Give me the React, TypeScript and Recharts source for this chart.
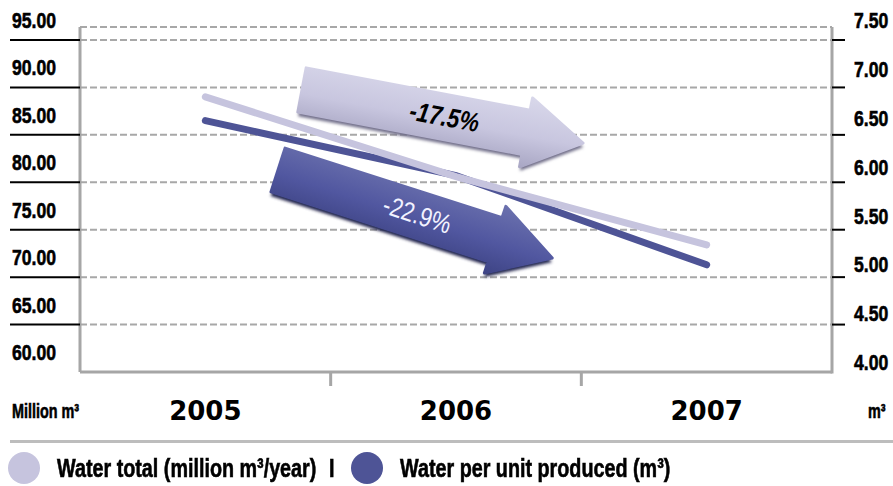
import React from "react";
import {
  LineChart,
  Line,
  XAxis,
  YAxis,
  CartesianGrid,
  Legend,
  Customized,
} from "recharts";

const years = ["2005", "2006", "2007"];
// million m3 / year (left axis)
const waterTotal = [89.0, 80.6, 73.4];
// m3 per unit produced (right axis)
const waterPerUnit = [6.65, 6.07, 5.13];
const leftTicks = [60, 65, 70, 75, 80, 85, 90, 95];
const rightTicks = [4, 4.5, 5, 5.5, 6, 6.5, 7, 7.5];

const data = years.map((year, i) => ({
  year,
  total: waterTotal[i],
  perUnit: waterPerUnit[i],
}));

const W = 893;
const H = 486;
const LEFT_W = 80;
const RIGHT_W = 61;
const TOP = 27;
const PLOT_BOTTOM = 372;
const PLOT_RIGHT = W - RIGHT_W;
const BAND = (W - LEFT_W - RIGHT_W) / years.length;

const LIGHT = "#c6c4de";
const DARK = "#4e5496";
const GRID = "#a8a8a8";
const AXIS = "#a6a6a6";
const HEAVY = "'Liberation Sans', Arial, sans-serif";

// heavy, horizontally squeezed label text
const Squeezed = ({
  x,
  y,
  size,
  sx,
  children,
}: {
  x: number;
  y: number;
  size: number;
  sx: number;
  children: React.ReactNode;
}) => (
  <text
    transform={`translate(${x},${y}) scale(${sx},1)`}
    fontFamily={HEAVY}
    fontWeight="bold"
    fontSize={size}
    fill="#000"
    stroke="#000"
    strokeWidth={0.6}
  >
    {children}
  </text>
);

const LeftTick = (props: any) => {
  const { y, payload } = props;
  return (
    <g>
      {payload.value !== leftTicks[0] && (
        <line x1={10} x2={LEFT_W} y1={y} y2={y} stroke="#000" strokeWidth={2} />
      )}
      <Squeezed x={12} y={y - 12} size={22} sx={0.8}>
        {payload.value.toFixed(2)}
      </Squeezed>
    </g>
  );
};

const RightTick = (props: any) => {
  const { y, payload, index } = props;
  return (
    <g>
      {payload.value !== rightTicks[0] && (
        <line x1={PLOT_RIGHT} x2={PLOT_RIGHT + 13} y1={y} y2={y} stroke="#000" strokeWidth={2} />
      )}
      <Squeezed x={854} y={y - 2 - 1.4 * index} size={22} sx={0.8}>
        {payload.value.toFixed(2)}
      </Squeezed>
    </g>
  );
};

const YearTick = (props: any) => {
  const { x, payload, index } = props;
  return (
    <g>
      {index < years.length - 1 && (
        <line
          x1={x + BAND / 2}
          x2={x + BAND / 2}
          y1={PLOT_BOTTOM}
          y2={PLOT_BOTTOM + 14}
          stroke={AXIS}
          strokeWidth={3}
        />
      )}
      <text
        x={x}
        y={420}
        textAnchor="middle"
        fontFamily="'DejaVu Sans', sans-serif"
        fontWeight="bold"
        fontSize={26}
        fill="#000"
      >
        {payload.value}
      </text>
    </g>
  );
};

type ArrowProps = {
  id: string;
  tail: [number, number];
  angle: number;
  len: number;
  body: number;
  head: number;
  headLen: number;
  stops: [string, string, string];
  shadow: string;
  label: string;
  labelFill: string;
  labelWeight: string;
  labelStyle: string;
};

const Arrow = (a: ArrowProps) => {
  const { len, body, head, headLen } = a;
  const pts = [
    [0, -body],
    [len - headLen, -body],
    [len - headLen, -head],
    [len, 0],
    [len - headLen, head],
    [len - headLen, body],
    [0, body],
  ]
    .map((p) => p.join(","))
    .join(" ");
  return (
    <g transform={`translate(${a.tail[0]},${a.tail[1]}) rotate(${a.angle})`}>
      <defs>
        <linearGradient id={a.id} x1="0" y1="0" x2="0" y2="1">
          <stop offset="0%" stopColor={a.stops[0]} />
          <stop offset="55%" stopColor={a.stops[1]} />
          <stop offset="100%" stopColor={a.stops[2]} />
        </linearGradient>
        <filter id={a.id + "-blur"} x="-10%" y="-20%" width="120%" height="140%">
          <feGaussianBlur stdDeviation="1.6" />
        </filter>
      </defs>
      <polygon
        points={pts}
        transform="translate(1,4)"
        fill={a.shadow}
        filter={`url(#${a.id}-blur)`}
      />
      <polygon
        points={pts}
        fill={`url(#${a.id})`}
        stroke={`url(#${a.id})`}
        strokeWidth={3}
        strokeLinejoin="round"
      />
      <text
        transform={`translate(${len / 2 + 2},9) scale(0.82,1)`}
        textAnchor="middle"
        fontFamily={HEAVY}
        fontWeight={a.labelWeight}
        fontStyle={a.labelStyle}
        fontSize={27}
        fill={a.labelFill}
      >
        {a.label}
      </text>
    </g>
  );
};

const Annotations = () => (
  <g>
    {/* right edge of the plot frame, full height like the left axis */}
    <line x1={PLOT_RIGHT} x2={PLOT_RIGHT} y1={TOP} y2={PLOT_BOTTOM + 1.5} stroke={AXIS} strokeWidth={3} />
    <Arrow
      id="arrow-total"
      tail={[302, 90]}
      angle={10.7}
      len={286}
      body={22.5}
      head={35}
      headLen={58}
      stops={["#d8d7ea", "#c8c6df", "#a9a7c4"]}
      shadow="#6f6d88"
      label="-17.5%"
      labelFill="#000"
      labelWeight="bold"
      labelStyle="italic"
    />
    <Arrow
      id="arrow-unit"
      tail={[278, 170]}
      angle={17.8}
      len={288}
      body={23}
      head={35}
      headLen={60}
      stops={["#6a70ad", "#5157a0", "#3e4485"]}
      shadow="#23274f"
      label="-22.9%"
      labelFill="#f2f2ff"
      labelWeight="normal"
      labelStyle="normal"
    />
    <Squeezed x={12} y={418} size={20} sx={0.72}>
      Million m³
    </Squeezed>
    <Squeezed x={868} y={418} size={20} sx={0.72}>
      m³
    </Squeezed>
  </g>
);

const LegendContent = () => {
  const text: React.CSSProperties = {
    position: "absolute",
    top: 16,
    fontFamily: HEAVY,
    fontWeight: "bold",
    fontSize: 25,
    lineHeight: "25px",
    color: "#000",
    whiteSpace: "nowrap",
    transform: "scaleX(0.79)",
    transformOrigin: "left center",
    WebkitTextStroke: "0.6px #000",
  };
  const dot = (left: number, color: string): React.CSSProperties => ({
    position: "absolute",
    left,
    top: 12,
    width: 32,
    height: 32,
    borderRadius: "50%",
    background: color,
  });
  return (
    <div style={{ position: "relative", width: W, height: 46 }}>
      <div style={{ position: "absolute", left: 10, right: 0, top: 0, height: 3, background: "#bdbdbd" }} />
      <div style={dot(8, LIGHT)} />
      <div style={{ ...text, left: 57 }}>Water total (million m³/year)</div>
      <div style={{ ...text, left: 329 }}>I</div>
      <div style={dot(351, DARK)} />
      <div style={{ ...text, left: 400 }}>Water per unit produced (m³)</div>
    </div>
  );
};

export default function App() {
  return (
    <div style={{ position: "absolute", left: 0, top: 0, background: "#fff" }}>
      <LineChart
        width={W}
        height={H}
        data={data}
        margin={{ top: TOP, right: 0, bottom: 0, left: 0 }}
      >
        <CartesianGrid
          vertical={false}
          horizontal
          stroke={GRID}
          strokeWidth={2}
          strokeDasharray="7 3"
          yAxisId="left"
        />
        <XAxis
          dataKey="year"
          height={68}
          padding={{ left: BAND / 2, right: BAND / 2 }}
          axisLine={{ stroke: AXIS, strokeWidth: 3 }}
          tickLine={false}
          tick={<YearTick />}
          interval={0}
        />
        <YAxis
          yAxisId="left"
          width={LEFT_W}
          domain={[60, 95]}
          ticks={leftTicks}
          padding={{ top: 13, bottom: 0 }}
          axisLine={{ stroke: AXIS, strokeWidth: 3 }}
          tickLine={false}
          tick={<LeftTick />}
          interval={0}
        />
        <YAxis
          yAxisId="right"
          orientation="right"
          width={RIGHT_W}
          domain={[4, 7.5]}
          ticks={rightTicks}
          padding={{ top: 13, bottom: 0 }}
          axisLine={false}
          tickLine={false}
          tick={<RightTick />}
          interval={0}
        />
        <Line
          yAxisId="right"
          dataKey="perUnit"
          name="Water per unit produced (m³)"
          stroke={DARK}
          strokeWidth={7}
          strokeLinecap="round"
          dot={false}
          isAnimationActive={false}
        />
        <Line
          yAxisId="left"
          dataKey="total"
          name="Water total (million m³/year)"
          stroke={LIGHT}
          strokeWidth={7}
          strokeLinecap="round"
          dot={false}
          isAnimationActive={false}
        />
        <Customized component={<Annotations />} />
        <Legend
          verticalAlign="bottom"
          wrapperStyle={{ left: 0, bottom: 0, width: W }}
          content={<LegendContent />}
        />
      </LineChart>
    </div>
  );
}
